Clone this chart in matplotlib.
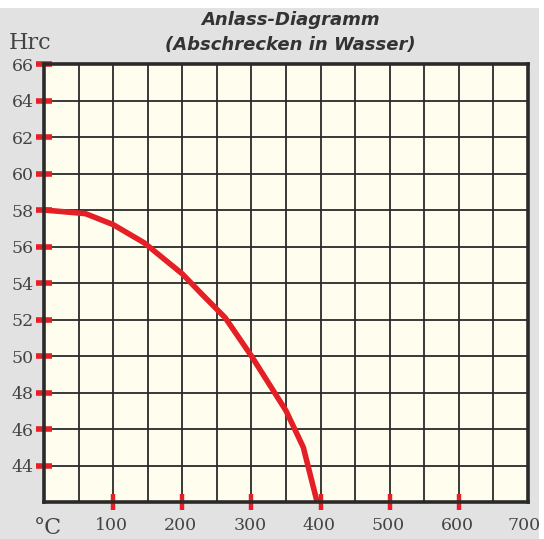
import matplotlib
matplotlib.use("Agg")
import matplotlib.pyplot as plt
import matplotlib.patches as patches
import matplotlib.transforms as mtransforms
import numpy as np

# Tempering curve: hardness (HRC) vs. tempering temperature (°C)
temp_c = [0, 60, 100, 145, 200, 228, 262, 300, 350, 375, 395]
hardness = [58, 57.8, 57.2, 56.2, 54.5, 53.4, 52.1, 50.0, 47.0, 45.0, 42.0]

x_labels = [100, 200, 300, 400, 500, 600, 700]
y_labels = [44, 46, 48, 50, 52, 54, 56, 58, 60, 62, 64, 66]

bg_gray = '#e2e2e2'
plot_bg = '#fffdee'
grid_col = '#2a2a2a'
red = '#e41f26'
text_col = '#444444'

fig = plt.figure(figsize=(5.44, 5.39), dpi=100)
fig.patch.set_facecolor('white')
fig.patches.append(patches.Rectangle((0, 0), 539 / 544, 531 / 539,
                                     transform=fig.transFigure,
                                     facecolor=bg_gray, edgecolor='none',
                                     zorder=-10))

ax = fig.add_axes([44 / 544, 37 / 539, 484 / 544, 438 / 539])
ax.set_facecolor(plot_bg)
ax.set_xlim(0, 700)
ax.set_ylim(42, 66)

# square grid
for gx in np.arange(50, 700, 50):
    ax.axvline(gx, color=grid_col, lw=1.3, zorder=1)
for gy in np.arange(44, 66, 2):
    ax.axhline(gy, color=grid_col, lw=1.3, zorder=1)

ax.plot(temp_c, hardness, color=red, lw=4.0, solid_capstyle='butt',
        solid_joinstyle='round', zorder=3)

for s in ax.spines.values():
    s.set_color(grid_col)
    s.set_linewidth(2.6)
    s.set_zorder(4)

# red tick bars straddling the spines
ax.set_yticks(y_labels)
ax.tick_params(axis='y', direction='inout', length=12, width=4.0,
               color=red, pad=1.5, labelsize=12.5, labelcolor=text_col)

ax.set_xticks(x_labels)
ax.tick_params(axis='x', direction='inout', length=12, width=3.2,
               color=red, pad=5, labelsize=12.5, labelcolor=text_col)
ax.xaxis.get_major_ticks()[-1].tick1line.set_visible(False)

for lbl in ax.get_xticklabels() + ax.get_yticklabels():
    lbl.set_family('DejaVu Serif')

# nudge x labels slightly left so "700" stays inside the frame
for i, lbl in enumerate(ax.get_xticklabels()):
    dx = -4 if i == len(x_labels) - 1 else -1.5
    lbl.set_transform(lbl.get_transform() +
                      mtransforms.ScaledTranslation(dx / 100, 0,
                                                    fig.dpi_scale_trans))

fig.text(9 / 544, 1 - 49 / 539, 'Hrc', family='DejaVu Serif', fontsize=16,
         color=text_col, ha='left', va='baseline')
fig.text(34 / 544, 1 - 534 / 539, '°C', family='DejaVu Serif', fontsize=16,
         color=text_col, ha='left', va='baseline')

fig.text(290 / 544, 1 - 20 / 539, 'Anlass-Diagramm', family='DejaVu Sans',
         fontsize=13, fontweight='bold', style='italic', color='#333333',
         ha='center', va='center')
fig.text(290 / 544, 1 - 45 / 539, '(Abschrecken in Wasser)',
         family='DejaVu Sans', fontsize=13, fontweight='bold',
         style='italic', color='#333333', ha='center', va='center')

fig.savefig('out.png', dpi=100, facecolor=fig.get_facecolor())
